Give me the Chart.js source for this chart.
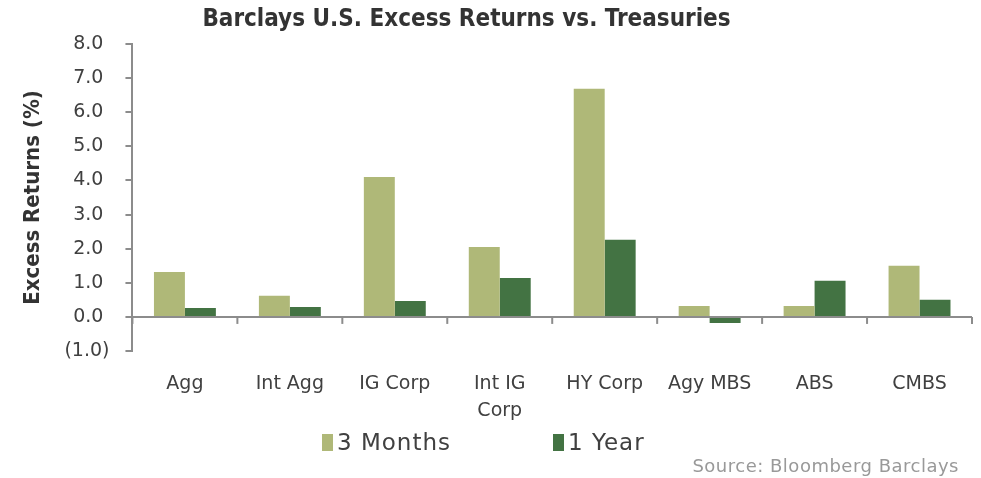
<!DOCTYPE html>
<html>
<head>
<meta charset="utf-8">
<script src="https://cdn.jsdelivr.net/npm/chart.js@4.4.1/dist/chart.umd.min.js"></script>
<style>
  html, body { margin: 0; padding: 0; background: #fff; }
  .wrap { position: relative; width: 981px; height: 478px; }
  .chart-title {
    position: absolute; left: 0; top: 4px; width: 933px; text-align: center;
    font-family: "DejaVu Sans Condensed", sans-serif;
    font-weight: bold; font-size: 24px; color: #333;
  }
  .legend {
    position: absolute; left: 322px; top: 428px; height: 28px;
    display: flex; align-items: center;
    font-family: "DejaVu Sans", sans-serif; font-size: 23px; color: #404040;
    letter-spacing: 1px;
  }
  .legend-item { display: flex; align-items: center; width: 231px; }
  .legend-box { width: 11px; height: 17px; margin-right: 4px; }
  .source {
    position: absolute; right: 22px; top: 455px;
    font-family: "DejaVu Sans", sans-serif; letter-spacing: 0.5px;
    font-size: 18px; color: #999;
  }
</style>
</head>
<body>
<div class="wrap">
  <canvas id="excessChart" width="981" height="478"></canvas>
  <div class="chart-title">Barclays U.S. Excess Returns vs. Treasuries</div>
  <div class="legend" id="legend"></div>
  <div class="source">Source: Bloomberg Barclays</div>
</div>
<script>
const categories = ['Agg', 'Int Agg', 'IG Corp', ['Int IG', 'Corp'], 'HY Corp', 'Agy MBS', 'ABS', 'CMBS'];
const threeMonths = [1.32, 0.62, 4.10, 2.05, 6.69, 0.32, 0.32, 1.50];
const oneYear = [0.26, 0.29, 0.47, 1.14, 2.26, -0.18, 1.06, 0.50];
const yTicks = [-1, 0, 1, 2, 3, 4, 5, 6, 7, 8];

const labelFont = '"DejaVu Sans", sans-serif';
const titleFont = '"DejaVu Sans Condensed", sans-serif';
const axisGray = '#8c8c8c';
const textColor = '#404040';

// small tick marks under the zero line at the category boundaries
const zeroTicks = {
    id: 'zeroTicks',
    afterDatasetsDraw(chart) {
        const x = chart.scales.x;
        const y = chart.scales.y;
        const y0 = y.getPixelForValue(0);
        const ctx = chart.ctx;
        ctx.save();
        ctx.strokeStyle = axisGray;
        ctx.lineWidth = 2;
        for (let i = 0; i <= categories.length; i++) {
            const px = x.getPixelForValue(i - 0.5);
            ctx.beginPath();
            ctx.moveTo(px, y0);
            ctx.lineTo(px, y0 + 7);
            ctx.stroke();
        }
        ctx.restore();
    }
};

const ctx = document.getElementById('excessChart').getContext('2d');
const chart = new Chart(ctx, {
    type: 'bar',
    data: {
        labels: categories,
        datasets: [
            {
                label: '3 Months',
                data: threeMonths,
                backgroundColor: '#afb878',
                categoryPercentage: 0.59,
                barPercentage: 1
            },
            {
                label: '1 Year',
                data: oneYear,
                backgroundColor: '#437343',
                categoryPercentage: 0.59,
                barPercentage: 1
            }
        ]
    },
    options: {
        responsive: false,
        animation: false,
        layout: { padding: { top: 44, left: 0, right: 9, bottom: 41 } },
        plugins: {
            legend: { display: false },
            tooltip: { enabled: false }
        },
        scales: {
            x: {
                grid: { display: false },
                border: { display: false },
                ticks: {
                    font: { family: labelFont, size: 19, lineHeight: 1.42 },
                    color: textColor,
                    maxRotation: 0,
                    autoSkip: false,
                    padding: 12
                }
            },
            y: {
                min: -1,
                max: 8,
                afterBuildTicks: (axis) => { axis.ticks = yTicks.map(v => ({ value: v })); },
                grid: {
                    color: (c) => (c.tick && c.tick.value === 0 ? axisGray : 'transparent'),
                    lineWidth: 2,
                    tickColor: axisGray,
                    tickLength: 7
                },
                border: { color: axisGray, width: 2 },
                ticks: {
                    font: { family: labelFont, size: 19 },
                    color: textColor,
                    padding: 16,
                    autoSkip: false,
                    // positives keep room for the closing bracket, like (1.0)
                    callback: (v) => (v < 0 ? '(' + Math.abs(v).toFixed(1) + ')' : v.toFixed(1) + '\u2008')
                },
                title: {
                    display: true,
                    text: 'Excess Returns (%)',
                    font: { family: titleFont, size: 22, weight: 'bold' },
                    color: '#333',
                    padding: { top: 20, bottom: 2 }
                }
            }
        }
    },
    plugins: [zeroTicks]
});

// legend built from the chart's datasets
const legendEl = document.getElementById('legend');
chart.data.datasets.forEach(ds => {
    const item = document.createElement('div');
    item.className = 'legend-item';
    const box = document.createElement('span');
    box.className = 'legend-box';
    box.style.background = ds.backgroundColor;
    const label = document.createElement('span');
    label.textContent = ds.label;
    item.appendChild(box);
    item.appendChild(label);
    legendEl.appendChild(item);
});
</script>
</body>
</html>
